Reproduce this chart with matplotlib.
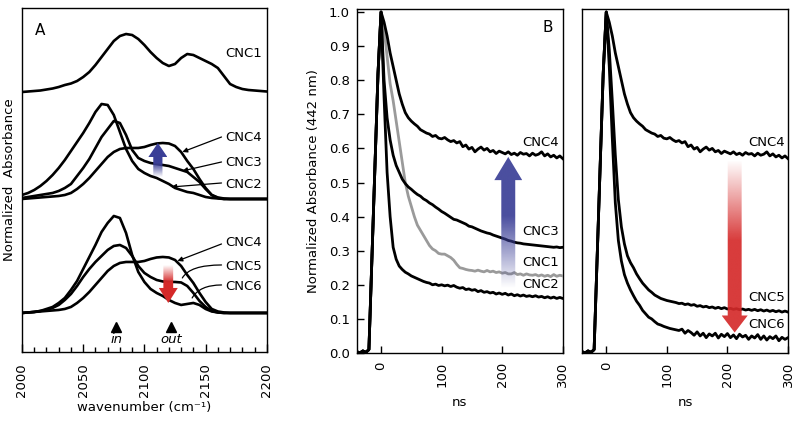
import numpy as np
import matplotlib
matplotlib.use('Agg')
import matplotlib.pyplot as plt
from matplotlib.patches import Polygon
from matplotlib.colors import to_rgb

plt.rcParams['font.family'] = ['DejaVu Sans']

# ---------------- Panel A: IR spectra (normalized, offset groups) ----------------
wavenumber = np.arange(2000, 2201, 5)
ir_cnc1 = [0, 0.005, 0.01, 0.015, 0.025, 0.035, 0.05, 0.07, 0.085, 0.11, 0.15, 0.20, 0.27, 0.35,
           0.43, 0.51, 0.56, 0.58, 0.57, 0.53, 0.47, 0.40, 0.34, 0.29, 0.26, 0.28, 0.34, 0.38,
           0.37, 0.34, 0.31, 0.28, 0.24, 0.16, 0.08, 0.05, 0.03, 0.02, 0.015, 0.01, 0.005]
ir_cnc2 = [0.04, 0.06, 0.09, 0.13, 0.18, 0.24, 0.31, 0.39, 0.48, 0.57, 0.66, 0.76, 0.87, 0.95,
           0.94, 0.84, 0.67, 0.50, 0.38, 0.30, 0.26, 0.23, 0.21, 0.18, 0.15, 0.11, 0.09, 0.07,
           0.06, 0.04, 0.02, 0.01, 0.005, 0, 0, 0, 0, 0, 0, 0, 0]
ir_cnc3 = [0.01, 0.02, 0.03, 0.04, 0.05, 0.06, 0.08, 0.11, 0.15, 0.23, 0.31, 0.40, 0.51, 0.62,
           0.70, 0.78, 0.76, 0.64, 0.49, 0.41, 0.38, 0.36, 0.35, 0.34, 0.33, 0.31, 0.29, 0.27,
           0.22, 0.17, 0.10, 0.04, 0.01, 0, 0, 0, 0, 0, 0, 0, 0]
ir_cnc4 = [0, 0.005, 0.01, 0.015, 0.02, 0.025, 0.03, 0.04, 0.06, 0.10, 0.15, 0.21, 0.28, 0.35,
           0.42, 0.47, 0.50, 0.51, 0.51, 0.51, 0.52, 0.54, 0.555, 0.56, 0.555, 0.53, 0.47, 0.38,
           0.30, 0.20, 0.11, 0.04, 0.015, 0.005, 0, 0, 0, 0, 0, 0, 0]
ir_cnc5 = [0, 0.005, 0.01, 0.02, 0.03, 0.05, 0.08, 0.13, 0.19, 0.27, 0.36, 0.44, 0.51, 0.57,
           0.63, 0.67, 0.68, 0.65, 0.57, 0.47, 0.40, 0.36, 0.33, 0.315, 0.31, 0.31, 0.305, 0.27,
           0.20, 0.12, 0.06, 0.02, 0.005, 0, 0, 0, 0, 0, 0, 0, 0]
ir_cnc6 = [0, 0.005, 0.01, 0.02, 0.04, 0.06, 0.10, 0.15, 0.23, 0.32, 0.44, 0.56, 0.68, 0.81,
           0.90, 0.97, 0.95, 0.80, 0.58, 0.41, 0.31, 0.24, 0.20, 0.17, 0.13, 0.10, 0.08, 0.09,
           0.10, 0.08, 0.04, 0.015, 0.005, 0, 0, 0, 0, 0, 0, 0, 0]
group_offsets = {'bottom': 0.0, 'middle': 1.14, 'top': 2.21}
band_positions = [2077, 2122]
band_labels = ['in', 'out']

# ---------------- Panels B/C: transient absorbance at 442 nm ----------------
time_ns = np.arange(-40, 301, 5)
rise = [0.004, 0.0, 0.006, 0.002, 0.01, 0.28, 0.55, 0.82, 1.0]
kin_cnc4 = rise + [0.97, 0.93, 0.88, 0.84, 0.80, 0.76, 0.73, 0.705, 0.69, 0.68,
                   0.672, 0.665, 0.655, 0.65, 0.645, 0.642, 0.635, 0.638, 0.63, 0.628,
                   0.632, 0.625, 0.62, 0.623, 0.616, 0.62, 0.605, 0.61, 0.598, 0.603,
                   0.59, 0.598, 0.604, 0.595, 0.6, 0.59, 0.594, 0.585, 0.592, 0.588,
                   0.584, 0.59, 0.582, 0.586, 0.58, 0.588, 0.583, 0.585, 0.578, 0.586,
                   0.58, 0.583, 0.59, 0.578, 0.584, 0.575, 0.58, 0.572, 0.578, 0.57]
kin_cnc3 = rise + [0.80, 0.69, 0.625, 0.58, 0.55, 0.53, 0.51, 0.497, 0.487, 0.48,
                   0.472, 0.465, 0.46, 0.452, 0.447, 0.44, 0.435, 0.428, 0.422, 0.415,
                   0.41, 0.404, 0.398, 0.392, 0.39, 0.386, 0.382, 0.378, 0.372, 0.37,
                   0.366, 0.362, 0.358, 0.355, 0.352, 0.35, 0.346, 0.343, 0.34, 0.337,
                   0.334, 0.33, 0.328, 0.325, 0.323, 0.322, 0.32, 0.319, 0.318, 0.317,
                   0.316, 0.315, 0.314, 0.313, 0.312, 0.311, 0.31, 0.311, 0.309, 0.31]
kin_cnc1 = rise + [0.95, 0.87, 0.79, 0.74, 0.68, 0.62, 0.56, 0.5, 0.46, 0.43,
                   0.40, 0.375, 0.36, 0.345, 0.33, 0.315, 0.305, 0.3, 0.292, 0.29,
                   0.29, 0.285, 0.28, 0.272, 0.26, 0.25, 0.248, 0.245, 0.243, 0.242,
                   0.24, 0.243, 0.24, 0.238, 0.242, 0.238, 0.24, 0.236, 0.238, 0.234,
                   0.236, 0.232, 0.232, 0.236, 0.23, 0.232, 0.228, 0.232, 0.229, 0.228,
                   0.23, 0.226, 0.229, 0.225, 0.228, 0.224, 0.23, 0.225, 0.228, 0.226]
kin_cnc2 = rise + [0.75, 0.53, 0.40, 0.31, 0.275, 0.255, 0.245, 0.237, 0.232, 0.226,
                   0.222, 0.218, 0.214, 0.21, 0.207, 0.205, 0.2, 0.202, 0.198, 0.2,
                   0.197, 0.199, 0.195, 0.198, 0.193, 0.19, 0.192, 0.186, 0.188, 0.184,
                   0.186, 0.18, 0.183, 0.178, 0.18, 0.176, 0.178, 0.173, 0.176, 0.172,
                   0.175, 0.17, 0.173, 0.168, 0.171, 0.167, 0.17, 0.166, 0.168, 0.165,
                   0.168, 0.164, 0.166, 0.162, 0.165, 0.161, 0.164, 0.16, 0.163, 0.16]
kin_cnc5 = rise + [0.89, 0.74, 0.58, 0.45, 0.37, 0.32, 0.285, 0.265, 0.25, 0.232,
                   0.218, 0.205, 0.195, 0.185, 0.178, 0.17, 0.165, 0.16, 0.157, 0.154,
                   0.152, 0.15, 0.148, 0.145, 0.146, 0.142, 0.144, 0.14, 0.142, 0.137,
                   0.139, 0.135, 0.137, 0.133, 0.135, 0.131, 0.134, 0.13, 0.133, 0.129,
                   0.131, 0.128, 0.13, 0.127, 0.129, 0.126, 0.128, 0.125, 0.128, 0.124,
                   0.127, 0.123, 0.126, 0.122, 0.125, 0.121, 0.124, 0.12, 0.123, 0.12]
kin_cnc6 = rise + [0.84, 0.63, 0.44, 0.33, 0.27, 0.23, 0.205, 0.185, 0.168, 0.152,
                   0.14, 0.125, 0.115, 0.105, 0.1, 0.092, 0.085, 0.082, 0.078, 0.075,
                   0.072, 0.07, 0.068, 0.066, 0.07, 0.058, 0.066, 0.06, 0.052, 0.062,
                   0.05, 0.058, 0.045, 0.056, 0.05, 0.058, 0.044, 0.055, 0.048, 0.057,
                   0.045, 0.053, 0.042, 0.055, 0.047, 0.052, 0.04, 0.05, 0.044, 0.054,
                   0.04, 0.05, 0.038, 0.048, 0.042, 0.05, 0.036, 0.046, 0.04, 0.045]
y_ticks = [0.0, 0.1, 0.2, 0.3, 0.4, 0.5, 0.6, 0.7, 0.8, 0.9, 1.0]
t_ticks = [0, 100, 200, 300]

BLUE = '#3b3f97'
RED = '#d52a2a'
GRAY = '#9a9a9a'
FS = 9.5


def grad_arrow(ax, xc, y_tail, y_base, y_tip, shaft_w, head_w, color, y_full, alpha=1.0, zorder=6):
    poly = [(xc - shaft_w / 2, y_tail), (xc - shaft_w / 2, y_base), (xc - head_w / 2, y_base),
            (xc, y_tip), (xc + head_w / 2, y_base), (xc + shaft_w / 2, y_base),
            (xc + shaft_w / 2, y_tail)]
    patch = Polygon(poly, closed=True, facecolor='none', edgecolor='none')
    ax.add_patch(patch)
    ymin, ymax = min(y_tail, y_tip), max(y_tail, y_tip)
    ys = np.linspace(ymin, ymax, 300)
    a = np.clip((ys - y_tail) / (y_full - y_tail), 0, 1)
    img = np.zeros((300, 1, 4))
    img[..., :3] = to_rgb(color)
    img[:, 0, 3] = a * alpha
    im = ax.imshow(img, extent=[xc - head_w / 2, xc + head_w / 2, ymin, ymax], origin='lower',
                   aspect='auto', zorder=zorder, interpolation='bilinear')
    im.set_clip_path(patch)


fig = plt.figure(figsize=(8, 4.22), dpi=100)

# ---------------- Panel A ----------------
axA = fig.add_axes([0.0275, 0.166, 0.306, 0.815])
lwA = 1.9
off = group_offsets
axA.plot(wavenumber, np.array(ir_cnc1) + off['top'], color='k', lw=lwA)
for s in (ir_cnc2, ir_cnc3, ir_cnc4):
    axA.plot(wavenumber, np.array(s) + off['middle'], color='k', lw=lwA)
for s in (ir_cnc4, ir_cnc5, ir_cnc6):
    axA.plot(wavenumber, np.array(s) + off['bottom'], color='k', lw=lwA)

axA.plot(band_positions, [-0.14, -0.14], linestyle='none', marker='^', color='k', markersize=7)
for xb, lb in zip(band_positions, band_labels):
    axA.text(xb, -0.27, lb, ha='center', va='center', fontsize=FS, style='italic')

axA.text(2166, 2.60, 'CNC1', ha='left', va='center', fontsize=FS)
axA.text(2166, 1.75, 'CNC4', ha='left', va='center', fontsize=FS)
axA.text(2166, 1.50, 'CNC3', ha='left', va='center', fontsize=FS)
axA.text(2166, 1.28, 'CNC2', ha='left', va='center', fontsize=FS)
axA.text(2166, 0.70, 'CNC4', ha='left', va='center', fontsize=FS)
axA.text(2166, 0.46, 'CNC5', ha='left', va='center', fontsize=FS)
axA.text(2166, 0.26, 'CNC6', ha='left', va='center', fontsize=FS)

ap = dict(arrowstyle='-|>', color='k', lw=0.9, mutation_scale=7, shrinkA=0, shrinkB=0)
axA.annotate('', xy=(2131, 1.61), xytext=(2163, 1.76), arrowprops=ap)
axA.annotate('', xy=(2131, 1.42), xytext=(2163, 1.51), arrowprops=ap)
axA.annotate('', xy=(2122, 1.26), xytext=(2163, 1.30), arrowprops=ap)
axA.annotate('', xy=(2127, 0.52), xytext=(2163, 0.69), arrowprops=ap)
cp = dict(arrowstyle='-', color='k', lw=0.9, shrinkA=0, shrinkB=0,
          connectionstyle='angle3,angleA=0,angleB=60')
axA.annotate('', xy=(2131, 0.35), xytext=(2163, 0.48), arrowprops=cp)
axA.annotate('', xy=(2139, 0.15), xytext=(2163, 0.28), arrowprops=cp)

grad_arrow(axA, 2111, 1.36, 1.56, 1.70, 7.5, 15.5, BLUE, y_full=1.50)
grad_arrow(axA, 2119.5, 0.48, 0.25, 0.10, 8, 15.5, RED, y_full=0.31)

axA.text(0.073, 0.935, 'A', transform=axA.transAxes, ha='center', va='center', fontsize=11)
axA.set_xlim(2000, 2200)
axA.set_ylim(-0.39, 3.05)
axA.set_yticks([])
axA.set_xticks([2000, 2050, 2100, 2150, 2200])
axA.set_xticks(np.arange(2000, 2201, 10), minor=True)
axA.tick_params(axis='x', which='major', direction='in', length=6, width=1, pad=8,
                labelsize=FS, labelrotation=90)
axA.tick_params(axis='x', which='minor', direction='in', length=3.5, width=1)
axA.set_xlabel('wavenumber (cm\u207b\u00b9)', fontsize=FS)
axA.xaxis.set_label_coords(0.5, -0.142)
axA.set_ylabel('Normalized  Absorbance', fontsize=FS)
axA.yaxis.set_label_coords(-0.025, 0.5)

# ---------------- Panels B and C ----------------
axB = fig.add_axes([0.446, 0.1635, 0.2575, 0.8145])
axC = fig.add_axes([0.7275, 0.1635, 0.2575, 0.8145])
lwB = 2.0
axB.plot(time_ns, kin_cnc1, color=GRAY, lw=lwB, zorder=3)
axB.plot(time_ns, kin_cnc2, color='k', lw=lwB, zorder=4)
axB.plot(time_ns, kin_cnc3, color='k', lw=lwB, zorder=4)
axB.plot(time_ns, kin_cnc4, color='k', lw=lwB, zorder=4)

axC.plot(time_ns, kin_cnc6, color='k', lw=lwB, zorder=4)
axC.plot(time_ns, kin_cnc5, color='k', lw=lwB, zorder=4)
axC.plot(time_ns, kin_cnc4, color='k', lw=lwB, zorder=4)

grad_arrow(axB, 210, 0.19, 0.507, 0.575, 23, 46, BLUE, y_full=0.40, alpha=0.92)
grad_arrow(axC, 212, 0.565, 0.11, 0.06, 23, 43, RED, y_full=0.33, alpha=0.92)

axB.text(294, 0.616, 'CNC4', ha='right', va='center', fontsize=FS)
axB.text(294, 0.355, 'CNC3', ha='right', va='center', fontsize=FS)
axB.text(294, 0.264, 'CNC1', ha='right', va='center', fontsize=FS)
axB.text(294, 0.200, 'CNC2', ha='right', va='center', fontsize=FS)
axC.text(295, 0.616, 'CNC4', ha='right', va='center', fontsize=FS)
axC.text(295, 0.164, 'CNC5', ha='right', va='center', fontsize=FS)
axC.text(295, 0.085, 'CNC6', ha='right', va='center', fontsize=FS)
axB.text(0.927, 0.946, 'B', transform=axB.transAxes, ha='center', va='center', fontsize=11)

for ax in (axB, axC):
    ax.set_xlim(-40, 300)
    ax.set_ylim(0, 1.008)
    ax.set_xticks(t_ticks)
    ax.tick_params(axis='x', direction='in', length=5, width=1, pad=6, labelsize=FS,
                   labelrotation=90)
    ax.set_xlabel('ns', fontsize=FS)
    ax.xaxis.set_label_coords(0.5, -0.125)

axB.set_yticks(y_ticks)
axB.set_yticklabels([f'{v:.1f}' for v in y_ticks])
axB.tick_params(axis='y', direction='in', length=5, width=1, pad=5, labelsize=FS)
axB.set_ylabel('Normalized Absorbance (442 nm)', fontsize=FS)
axB.yaxis.set_label_coords(-0.18, 0.5)
axC.set_yticks([])

for ax in (axA, axB, axC):
    for sp in ax.spines.values():
        sp.set_linewidth(1.0)

fig.savefig('out.png', dpi=100)
